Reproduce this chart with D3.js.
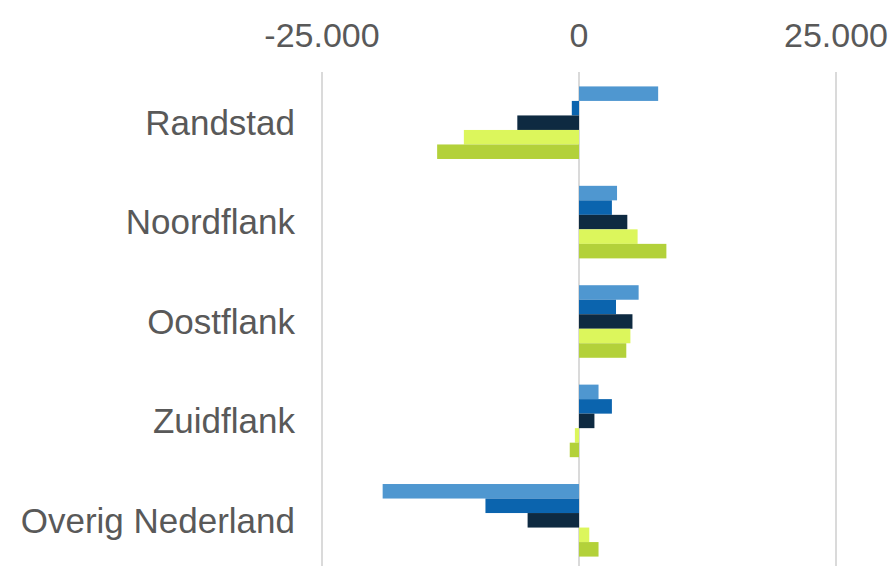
<!DOCTYPE html>
<html>
<head>
<meta charset="utf-8">
<script src="https://cdn.jsdelivr.net/npm/d3@7"></script>
<style>
  body { margin: 0; background: #fff; }
  text { font-family: "Liberation Sans", Arial, sans-serif; fill: #595959; }
</style>
</head>
<body>
<div id="graph"></div>
<script>

// regions (top to bottom)
var categories = ["Randstad", "Noordflank", "Oostflank", "Zuidflank", "Overig Nederland"];

// five series, one value per region
var series = ["s1", "s2", "s3", "s4", "s5"];
var s1 = [7700, 3700, 5800, 1900, -19100];
var s2 = [-700, 3200, 3600, 3200, -9100];
var s3 = [-6000, 4700, 5200, 1500, -5000];
var s4 = [-11200, 5700, 5000, -400, 1000];
var s5 = [-13800, 8500, 4600, -900, 1900];
var colors = ["#4f97d0", "#0b64ae", "#0e2a41", "#dcf65c", "#b3d13a"];

var ticks = [-25000, 0, 25000];

function setup() {
  var size = {width: 896, height: 566};

  var svg = d3.select("#graph")
    .append("svg")
    .attr("width", size.width)
    .attr("height", size.height);

  var x = d3.scaleLinear()
    .domain([-25000, 25000])
    .range([322, 836]);

  var y = d3.scaleBand()
    .domain(categories)
    .range([73, 570])
    .padding(0);

  var bw = y.bandwidth();
  var inner = d3.scaleBand()
    .domain(series)
    .range([bw * 0.135, bw * 0.865]);

  // gridlines
  svg.append("g")
    .selectAll("line")
    .data(ticks)
    .enter()
    .append("line")
    .attr("x1", (d) => x(d))
    .attr("x2", (d) => x(d))
    .attr("y1", 72)
    .attr("y2", 566)
    .attr("stroke", "#dadada")
    .attr("stroke-width", 2);

  // top axis labels
  var fmt = (d) => d3.format(",")(d).replace(/,/g, ".").replace("−", "-");
  svg.append("g")
    .selectAll("text")
    .data(ticks)
    .enter()
    .append("text")
    .attr("x", (d) => x(d))
    .attr("y", 47)
    .attr("text-anchor", "middle")
    .style("font-size", "34px")
    .text(fmt);

  // bars
  var values = [s1, s2, s3, s4, s5];
  var rows = [];
  categories.forEach((c, i) => {
    series.forEach((s, j) => {
      rows.push({cat: c, ser: s, value: values[j][i], color: colors[j]});
    });
  });

  svg.append("g")
    .selectAll("rect")
    .data(rows)
    .enter()
    .append("rect")
    .attr("x", (d) => x(Math.min(0, d.value)))
    .attr("width", (d) => Math.abs(x(d.value) - x(0)))
    .attr("y", (d) => y(d.cat) + inner(d.ser))
    .attr("height", inner.bandwidth())
    .attr("fill", (d) => d.color);

  // category labels
  svg.append("g")
    .selectAll("text")
    .data(categories)
    .enter()
    .append("text")
    .attr("x", 295)
    .attr("y", (d) => y(d) + bw / 2)
    .attr("dy", "0.35em")
    .attr("text-anchor", "end")
    .style("font-size", "35px")
    .text((d) => d);
}

window.addEventListener('load', setup)
</script>
</body>
</html>
